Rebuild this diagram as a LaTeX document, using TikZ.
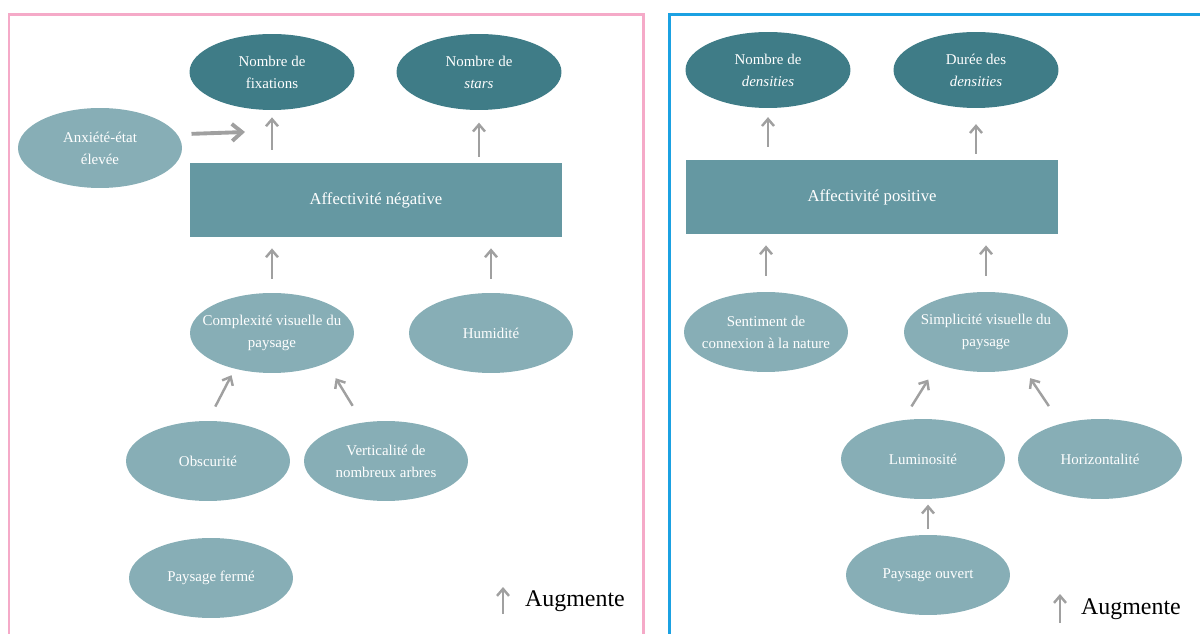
\documentclass[tikz,border=0pt]{standalone}
\usepackage{fontspec}
\setmainfont{Liberation Serif}
\usepackage{xcolor}
\usetikzlibrary{positioning, arrows.meta, shapes.geometric}

\definecolor{tealdark}{RGB}{63,124,135}
\definecolor{tealmid}{RGB}{101,152,162}
\definecolor{teallight}{RGB}{135,174,182}
\definecolor{framepink}{RGB}{245,170,200}
\definecolor{frameblue}{RGB}{27,161,226}
\definecolor{arrowgray}{RGB}{160,160,160}

\begin{document}
\begin{tikzpicture}[
    x=0.02cm, y=-0.02cm,
    outc/.style  = {ellipse, fill=tealdark, text=white, align=center, inner xsep=-8pt, inner ysep=0pt,
                    font=\fontsize{8.5}{12.5}\selectfont, minimum width=3.3cm, minimum height=1.52cm},
    fact/.style  = {ellipse, fill=teallight, text=white, align=center, inner xsep=-8pt, inner ysep=0pt,
                    font=\fontsize{8.5}{12.5}\selectfont, minimum width=3.28cm, minimum height=1.6cm},
    affect/.style= {rectangle, fill=tealmid, text=white, align=center,
                    font=\fontsize{9.5}{12}\selectfont, minimum width=7.44cm, minimum height=1.5cm},
    up/.style    = {-{Straight Barb[length=1.4mm, width=2.4mm]}, line width=1.4pt, arrowgray},
    push/.style  = {-{Straight Barb[length=2mm, width=3.4mm]}, line width=2.2pt, arrowgray},
    legend/.style= {font=\fontsize{13.6}{15}\selectfont, anchor=center},
    panel/.style = {line width=1.7pt},
  ]
    \useasboundingbox (0,0) rectangle (1200,634);

    % --- panel frames ---
    \draw[panel, framepink] (9,634) -- (9,15) -- (643,15) -- (643,634);
    \draw[panel, frameblue] (669,634) -- (669,15) -- (1200,15);

    % --- negative side ---
    \node[outc]   (fix)   at (272,72)  {Nombre de\\ fixations};
    \node[outc]   (stars) at (479,72)  {Nombre de\\ \textit{stars}};
    \node[fact]   (anx)   at (100,148) {Anxiété-état\\ élevée};
    \node[affect] (neg)   at (376,200) {Affectivité négative};
    \node[fact]   (cvp)   at (272,333) {Complexité visuelle du\\ paysage};
    \node[fact]   (hum)   at (491,333) {Humidité};
    \node[fact]   (obs)   at (208,461) {Obscurité};
    \node[fact]   (vert)  at (386,461) {Verticalité de\\ nombreux arbres};
    \node[fact]   (ferme) at (211,578) {Paysage fermé};

    % --- positive side ---
    \node[outc]   (dens)  at (768,70)  {Nombre de\\ \textit{densities}};
    \node[outc]   (dur)   at (976,70)  {Durée des\\ \textit{densities}};
    \node[affect] (pos)   at (872,197) {Affectivité positive};
    \node[fact]   (conn)  at (766,332) {Sentiment de\\ connexion à la nature};
    \node[fact]   (simp)  at (986,332) {Simplicité visuelle du\\ paysage};
    \node[fact]   (lum)   at (923,459) {Luminosité};
    \node[fact]   (hor)   at (1100,459) {Horizontalité};
    \node[fact]   (ouv)   at (928,575) {Paysage ouvert};

    % --- legends ---
    \node[legend] (leg1) at (575,601)  {Augmente};
    \node[legend] (leg2) at (1131,609) {Augmente};
    \coordinate (leg1a) at (503,614);  \coordinate (leg1b) at (503,587);
    \coordinate (leg2a) at (1060,623); \coordinate (leg2b) at (1060,594);
    \coordinate (anxtip) at (245,132);

    % --- arrows, negative side ---
    \draw[push, shorten <=8pt] (anx.10) -- (anxtip);
    \draw[up, shorten <=7pt, shorten >=4pt] (fix.south |- neg.north) -- (fix.south);
    \draw[up, shorten <=3pt, shorten >=7pt] (stars.south |- neg.north) -- (stars.south);
    \draw[up, shorten <=8pt, shorten >=6pt] (cvp.north) -- (cvp.north |- neg.south);
    \draw[up, shorten <=8pt, shorten >=6pt] (hum.north) -- (hum.north |- neg.south);
    \draw[up, shorten <=9pt, shorten >=4pt] (obs.north) -- (cvp.224);
    \draw[up, shorten <=11pt, shorten >=10pt] (vert.121) -- (cvp.331);

    % --- arrows, positive side ---
    \draw[up, shorten <=7pt, shorten >=5pt] (dens.south |- pos.north) -- (dens.south);
    \draw[up, shorten <=3pt, shorten >=9pt] (dur.south |- pos.north) -- (dur.south);
    \draw[up, shorten <=9pt, shorten >=6pt] (conn.north) -- (conn.north |- pos.south);
    \draw[up, shorten <=9pt, shorten >=6pt] (simp.north) -- (simp.north |- pos.south);
    \draw[up, shorten <=9pt, shorten >=10pt] (lum.117) -- (simp.214);
    \draw[up, shorten <=12pt, shorten >=7pt] (hor.138) -- (simp.316);
    \draw[up, shorten <=3pt, shorten >=3pt] (ouv.north) -- (ouv.north |- lum.south);

    % --- legend arrows ---
    \draw[up] (leg1a) -- (leg1b);
    \draw[up] (leg2a) -- (leg2b);
  \end{tikzpicture}
\end{document}
